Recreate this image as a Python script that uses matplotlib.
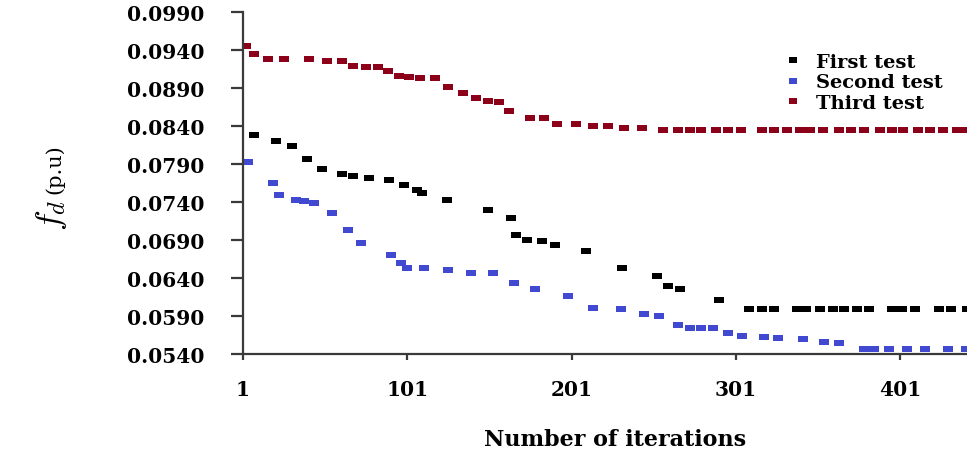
import matplotlib
matplotlib.use("Agg")
import matplotlib.pyplot as plt
from matplotlib.path import Path

# ---------------- data ----------------
first_iter = [8, 21, 31, 40, 49, 61, 68, 78, 90, 99, 107, 110, 125, 150, 164, 167, 174,
              183, 191, 210, 232, 253, 260, 267, 291, 309, 317, 324, 338, 344, 352, 360,
              367, 375, 382, 396, 402, 410, 425, 432, 442]
first_val = [0.0828, 0.0820, 0.0814, 0.0797, 0.0784, 0.0777, 0.0774, 0.0772, 0.0769,
             0.0763, 0.0756, 0.0752, 0.0743, 0.0730, 0.0719, 0.0697, 0.0690, 0.0689,
             0.0683, 0.0676, 0.0653, 0.0643, 0.0629, 0.0626, 0.0611,
             0.0599, 0.0599, 0.0599, 0.0599, 0.0599, 0.0599, 0.0599, 0.0599,
             0.0599, 0.0599, 0.0599, 0.0599, 0.0599, 0.0599, 0.0599, 0.0599]

second_iter = [4, 19, 23, 33, 38, 44, 55, 65, 73, 91, 97, 101, 111, 126, 140, 153, 166,
               179, 199, 214, 231, 245, 254, 266, 273, 280, 287, 296, 305, 318, 327, 342,
               355, 364, 379, 385, 394, 405, 416, 430, 441]
second_val = [0.0792, 0.0765, 0.0749, 0.0743, 0.0741, 0.0739, 0.0725, 0.0703, 0.0686,
              0.0670, 0.0660, 0.0653, 0.0653, 0.0650, 0.0647, 0.0646, 0.0634, 0.0626,
              0.0616, 0.0600, 0.0599, 0.0592, 0.0590, 0.0578, 0.0574, 0.0574, 0.0574,
              0.0568, 0.0564, 0.0563, 0.0561, 0.0560, 0.0556, 0.0554,
              0.0546, 0.0546, 0.0546, 0.0546, 0.0546, 0.0546, 0.0546]

third_iter = [3, 8, 16, 26, 41, 52, 61, 68, 76, 83, 89, 96, 102, 109, 118, 126, 135, 143,
              150, 157, 163, 176, 184, 192, 204, 214, 223, 233, 244, 257, 266, 273, 280,
              289, 296, 304, 317, 324, 332, 340, 346, 354, 364, 371, 379, 389, 396, 403,
              412, 419, 427, 436, 442]
third_val = [0.0945, 0.0935, 0.0928, 0.0928, 0.0928, 0.0925, 0.0925, 0.0919, 0.0917,
             0.0917, 0.0912, 0.0906, 0.0904, 0.0903, 0.0903, 0.0891, 0.0884, 0.0877,
             0.0873, 0.0871, 0.0860, 0.0851, 0.0851, 0.0843, 0.0842, 0.0840, 0.0840,
             0.0837, 0.0837,
             0.0835, 0.0835, 0.0835, 0.0835, 0.0835, 0.0835, 0.0835, 0.0835, 0.0835,
             0.0835, 0.0835, 0.0835, 0.0835, 0.0835, 0.0835, 0.0835, 0.0835, 0.0835,
             0.0835, 0.0835, 0.0835, 0.0835, 0.0835, 0.0835]

series_labels = ["First test", "Second test", "Third test"]
x_ticks = [1, 101, 201, 301, 401]
y_ticks = [0.054, 0.059, 0.064, 0.069, 0.074, 0.079, 0.084, 0.089, 0.094, 0.099]
x_label = "Number of iterations"

# ---------------- figure ----------------
W, H = 967, 452
fig = plt.figure(figsize=(W / 100, H / 100), dpi=100)

ax_left, ax_bottom, ax_top = 243, 355, 13
ax = fig.add_axes([ax_left / W, 1 - ax_bottom / H, 1 - ax_left / W, (ax_bottom - ax_top) / H])

# dash-like rectangular marker (about 9 x 5 px)
dash = Path([(-1, -0.6), (1, -0.6), (1, 0.6), (-1, 0.6), (-1, -0.6)],
            [Path.MOVETO, Path.LINETO, Path.LINETO, Path.LINETO, Path.CLOSEPOLY])

colors = ["#000000", "#4049CF", "#8C001A"]
data = [(first_iter, first_val), (second_iter, second_val), (third_iter, third_val)]
for (xs, ys), c, lab in zip(data, colors, series_labels):
    ax.plot(xs, ys, linestyle="none", marker=dash, markersize=7,
            markerfacecolor=c, markeredgewidth=0, color=c, label=lab)

ax.set_xlim(1, 1 + (W - ax_left) / 1.6425)
ax.set_ylim(0.054, 0.099)

for s in ["top", "right"]:
    ax.spines[s].set_visible(False)
for s in ["left", "bottom"]:
    ax.spines[s].set_color("#3a3a3a")
    ax.spines[s].set_linewidth(1.6)

tick_font = dict(family="DejaVu Serif", weight="bold", size=14.5)
ax.set_xticks(x_ticks)
ax.set_xticklabels([str(v) for v in x_ticks], **tick_font)
ax.set_yticks(y_ticks)
ax.set_yticklabels([f"{v:.4f}" for v in y_ticks], **tick_font)
ax.tick_params(axis="y", direction="out", length=9, width=1.6, color="#3a3a3a", pad=19)
ax.tick_params(axis="x", direction="out", length=4, width=1.6, color="#3a3a3a", pad=14)

ax.set_xlabel(x_label, family="DejaVu Serif", weight="bold", size=16)
ax.xaxis.set_label_coords((615 - ax_left) / (W - ax_left), (ax_bottom - 440) / (ax_bottom - ax_top))
ax.xaxis.label.set_va("center")

# y-axis label: f_d (p.u)
fig.text(60 / W, 1 - 231 / H, r"$f_d$", rotation=90, rotation_mode="anchor",
         ha="left", va="baseline", fontsize=25, math_fontfamily="cm")
fig.text(60 / W, 1 - 194 / H, "(p.u)", rotation=90, rotation_mode="anchor",
         ha="left", va="baseline", fontsize=15, family="DejaVu Serif")

leg = fig.legend(loc="upper left", bbox_to_anchor=(783 / W, 1 - 54 / H),
                 bbox_transform=fig.transFigure, frameon=False, borderpad=0,
                 borderaxespad=0, handlelength=1.0, handletextpad=0.7,
                 labelspacing=0.12, markerscale=0.9,
                 prop=dict(family="DejaVu Serif", weight="bold", size=14))

fig.savefig("out.png", dpi=100)
